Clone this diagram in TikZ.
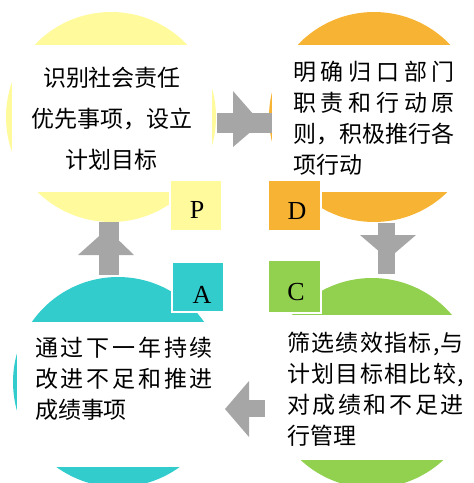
\documentclass[tikz,border=0pt]{standalone}
\usepackage{fontspec}
\setmainfont{Liberation Serif}
\newfontfamily\cjk{Noto Sans CJK SC}
\usepackage{tikz}
\definecolor{pdcayellow}{RGB}{255,250,155}
\definecolor{pdcaorange}{RGB}{247,180,52}
\definecolor{pdcateal}{RGB}{51,204,204}
\definecolor{pdcagreen}{RGB}{146,208,80}
\definecolor{pdcagray}{RGB}{166,166,166}

% spread the characters of one line over a given width
\makeatletter
\def\jl@first#1{#1\jl@next}
\def\jl@next#1{\ifx#1\@nil\else\hfill#1\expandafter\jl@next\fi}
\newcommand\jline[2]{\makebox[#1][s]{\jl@first#2\@nil}}
\makeatother

\begin{document}
\begin{tikzpicture}[x=1pt,y=-1pt,
  cjktext/.style={font=\cjk\fontsize{23}{31}\selectfont,inner sep=0pt},
  letterbox/.style={draw=white,line width=1.5pt,inner sep=0pt,minimum width=52pt,minimum height=51pt},
  letter/.style={font=\fontsize{26}{26}\selectfont,inner sep=0pt}]
\useasboundingbox (0,0) rectangle (474,483);
% circles
\fill[pdcayellow] (111,117) circle (105);
\fill[pdcaorange] (374,117) circle (105);
\fill[pdcateal] (118,382) circle (105);
\fill[pdcagreen] (372,383) circle (105);
% text panels
\fill[white] (12,45) rectangle (212,192);
\fill[white] (272,45) rectangle (480,192);
\fill[white] (17,322) rectangle (226,467);
\fill[white] (265,315) rectangle (480,460);
% arrows
\fill[pdcagray] (217,113) rectangle (272,133);
\fill[pdcagray] (233,91) -- (261,123) -- (233,147) -- cycle;
\fill[pdcagray] (378,223) rectangle (395,274);
\fill[pdcagray] (360,235) -- (416,235) -- (388,259) -- cycle;
\fill[pdcagray] (249,400) rectangle (265,417);
\fill[pdcagray] (249,381) -- (225,409) -- (249,437) -- cycle;
\fill[pdcagray] (99,222) rectangle (119,275);
\fill[pdcagray] (78,255) -- (134,255) -- (107,229) -- cycle;
% texts
\node (plan) [cjktext,font=\cjk\fontsize{23}{41}\selectfont,align=center] at (112,119)
  {识别社会责任\\优先事项，设立\\计划目标};
\node (do) [cjktext,text width=162pt,align=left] at (374,118.5)
  {\jline{162pt}{明确归口部门}\\\jline{162pt}{职责和行动原}\\\jline{162pt}{则，积极推行各}\\项行动};
\node (check) [cjktext,text width=177pt,align=left] at (375.5,389)
  {\jline{177pt}{筛选绩效指标,与}\\\jline{177pt}{计划目标相比较,}\\\jline{177pt}{对成绩和不足进}\\行管理};
\node (act) [cjktext,text width=178pt,align=left] at (124,378.5)
  {\jline{178pt}{通过下一年持续}\\\jline{178pt}{改进不足和推进}\\成绩事项};
% letter boxes
\node (pbox) [letterbox,fill=pdcayellow] at (196,205.5) {};
\node (dbox) [letterbox,fill=pdcaorange,minimum width=53pt] at (294.5,205.5) {};
\node (abox) [letterbox,fill=pdcateal,minimum height=50pt] at (198,287) {};
\node (cbox) [letterbox,fill=pdcagreen,minimum width=53pt,minimum height=53pt] at (294.5,286.5) {};
\node (pl) [letter] at (197,210) {P};
\node (dl) [letter] at (297,211) {D};
\node (al) [letter] at (202,295) {A};
\node (cl) [letter] at (296,292) {C};
\end{tikzpicture}
\end{document}
